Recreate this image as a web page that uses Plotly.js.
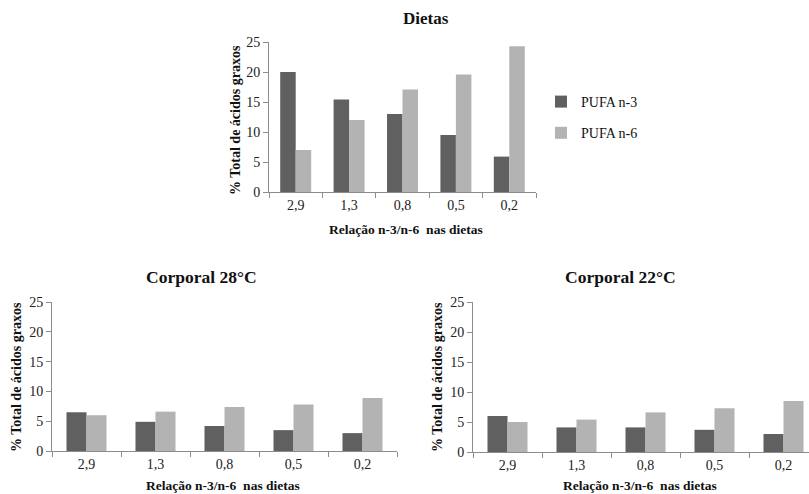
<!DOCTYPE html>
<html><head><meta charset="utf-8">
<script src="https://cdn.plot.ly/plotly-3.0.1.min.js"></script>
<style>html,body{margin:0;padding:0;background:#fff}#c{width:809px;height:494px}</style>
</head><body><div id="c"></div>
<script>
const categories = ["2,9","1,3","0,8","0,5","0,2"];
const dietasN3 = [20.0, 15.4, 13.0, 9.5, 5.9];
const dietasN6 = [7.0, 12.0, 17.1, 19.6, 24.3];
const corp28N3 = [6.5, 4.9, 4.2, 3.5, 3.0];
const corp28N6 = [6.0, 6.6, 7.4, 7.8, 8.9];
const corp22N3 = [6.0, 4.1, 4.1, 3.7, 3.0];
const corp22N6 = [5.0, 5.4, 6.6, 7.3, 8.5];
const seriesNames = ["PUFA n-3","PUFA n-6"];
const titles = ["Dietas","Corporal 28°C","Corporal 22°C"];
const yTitle = "% Total de ácidos graxos";
const xTitle = "Relação n-3/n-6  nas dietas";
const yTicks = [0,5,10,15,20,25];

const W = 809, H = 494;
const px = x => x / W, py = y => (H - y) / H;
const dark = "#606060", light = "#b3b3b3";
const fontFam = "Liberation Serif, serif";

function bars(vals, name, color, xa, ya, show){
  return {type:"bar", x:categories, y:vals, name:name, marker:{color:color},
    xaxis:xa, yaxis:ya, showlegend:show, legendgroup:name, hoverinfo:"skip"};
}
const data = [
  bars(dietasN3, seriesNames[0], dark, "x", "y", true),
  bars(dietasN6, seriesNames[1], light, "x", "y", true),
  bars(corp28N3, seriesNames[0], dark, "x2", "y2", false),
  bars(corp28N6, seriesNames[1], light, "x2", "y2", false),
  bars(corp22N3, seriesNames[0], dark, "x3", "y3", false),
  bars(corp22N6, seriesNames[1], light, "x3", "y3", false)
];

function xax(dom, range){
  return {domain:dom, range:range, type:"category", showline:true, linecolor:"#8c8c8c", linewidth:1,
    ticks:"outside", tickson:"boundaries", ticklen:5, tickcolor:"#8c8c8c", showgrid:false, zeroline:false,
    tickfont:{family:fontFam, size:14, color:"#222"}, automargin:false, fixedrange:true};
}
function yax(dom){
  return {domain:dom, range:[0,25], tickvals:yTicks, showline:true, linecolor:"#8c8c8c", linewidth:1,
    ticks:"outside", ticklen:5, tickcolor:"#8c8c8c", showgrid:false, zeroline:false,
    tickfont:{family:fontFam, size:14, color:"#222"}, automargin:false, fixedrange:true};
}
function ann(text, x, y, size, angle){
  return {text:"<b>"+text+"</b>", x:px(x), y:py(y), xref:"paper", yref:"paper", showarrow:false,
    xanchor:"center", yanchor:"middle", textangle:angle||0, font:{size:size, family:fontFam, color:"#111"}};
}

const layout = {
  width:W, height:H, margin:{l:0,r:0,t:0,b:0}, paper_bgcolor:"#fff", plot_bgcolor:"#fff",
  barmode:"group", bargap:0.42, bargroupgap:0,
  font:{family:fontFam, color:"#111"},
  xaxis: xax([px(269), px(536)], [-0.5,4.5]),
  yaxis: Object.assign(yax([py(192), py(42)]), {anchor:"x"}),
  xaxis2: Object.assign(xax([px(52), px(397)], [-0.5,4.5]), {anchor:"y2"}),
  yaxis2: Object.assign(yax([py(451), py(302)]), {anchor:"x2"}),
  xaxis3: Object.assign(xax([px(473), 1], [-0.5, 4.5 - 9/69]), {anchor:"y3"}),
  yaxis3: Object.assign(yax([py(452), py(302)]), {anchor:"x3"}),
  legend:{x:px(541), y:py(86), xanchor:"left", yanchor:"top", traceorder:"grouped", tracegroupgap:10,
    font:{family:fontFam, size:14, color:"#111"}, bgcolor:"rgba(0,0,0,0)", itemwidth:30},
  annotations:[
    ann(titles[0], 426, 18, 17),
    ann(titles[1], 201, 277, 17.5),
    ann(titles[2], 620, 277, 17.5),
    ann(xTitle, 406, 229, 13.5),
    ann(xTitle, 223, 485, 13.5),
    ann(xTitle, 640, 485, 13.5),
    ann(yTitle, 236, 120, 14, -90),
    ann(yTitle, 16, 377, 14, -90),
    ann(yTitle, 437, 377, 14, -90)
  ]
};
Plotly.newPlot("c", data, layout, {displayModeBar:false, staticPlot:true});
</script></body></html>
